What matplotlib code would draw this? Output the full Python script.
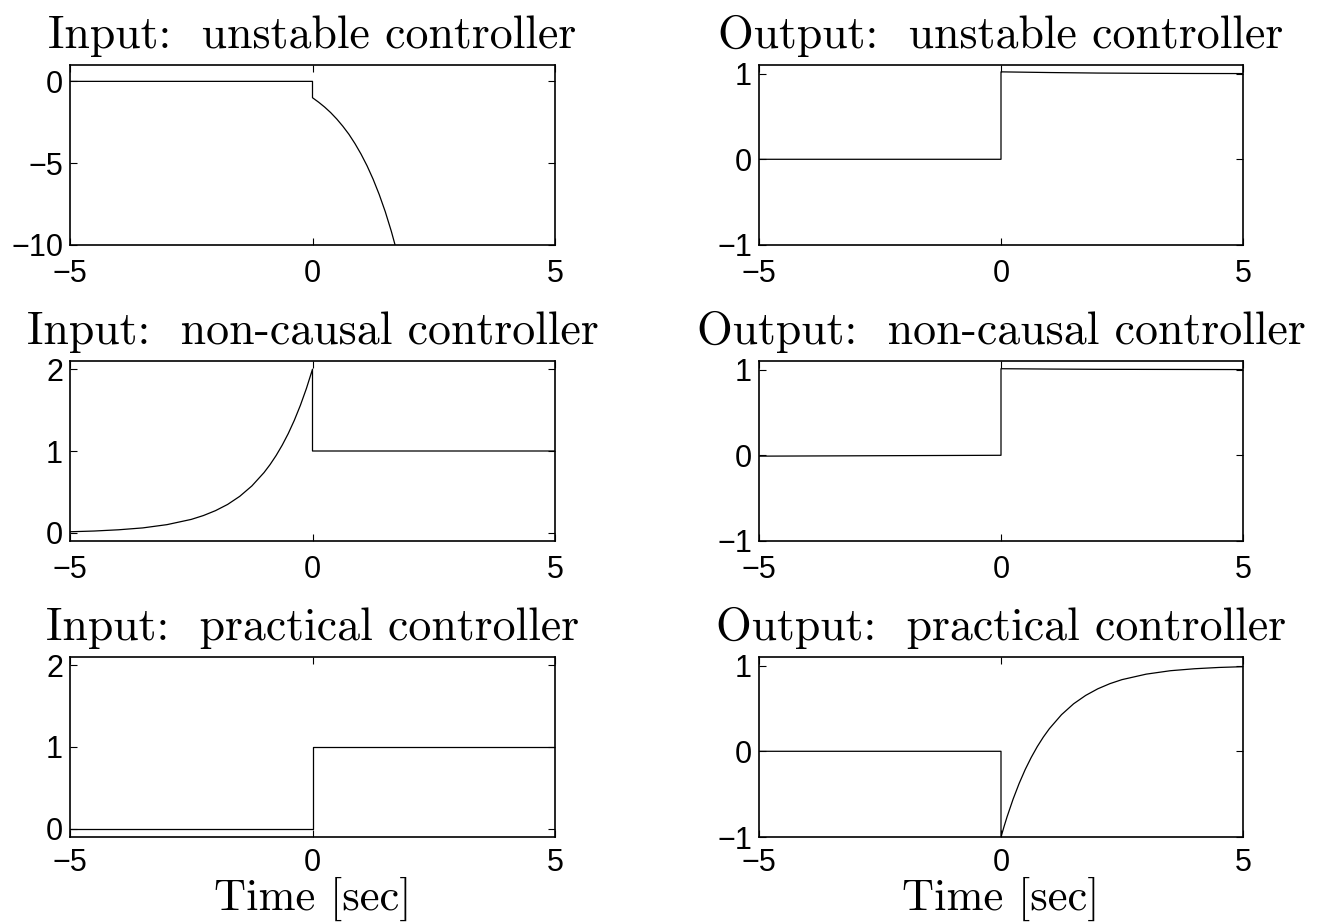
import matplotlib
matplotlib.use('Agg')
import matplotlib.pyplot as plt

# time axes and signals for the three controllers (input u, output y)
t_in_unstable = [-5, 0, 0, 0.125, 0.25, 0.375, 0.5, 0.625, 0.75, 0.875, 1.0,
                 1.125, 1.25, 1.375, 1.5, 1.625, 1.75]
u_unstable = [0, 0, -1, -1.27, -1.57, -1.91, -2.30, -2.74, -3.23, -3.80, -4.44,
              -5.16, -5.98, -6.91, -7.96, -9.16, -10.51]

t_out_unstable = [-5, 0, 0, 1, 2, 3, 4, 5]
y_unstable = [0, 0, 1.02, 1.012, 1.006, 1.003, 1.001, 1.0]

t_in_noncausal = [-5, -4.5, -4, -3.5, -3, -2.5, -2.25, -2, -1.75, -1.5, -1.25,
                  -1, -0.875, -0.75, -0.625, -0.5, -0.375, -0.25, -0.125, 0, 0, 5]
u_noncausal = [0.013, 0.022, 0.037, 0.060, 0.100, 0.164, 0.211, 0.271, 0.347,
               0.446, 0.573, 0.736, 0.834, 0.945, 1.071, 1.213, 1.375, 1.558,
               1.765, 2.0, 1.0, 1.0]

t_out_noncausal = [-5, -4, -3, -2, -1, 0, 0, 1, 2, 3, 4, 5]
y_noncausal = [-0.01, -0.008, -0.006, -0.004, -0.002, 0, 1.01, 1.006, 1.003,
               1.002, 1.001, 1.0]

t_in_practical = [-5, 0, 0, 5]
u_practical = [0, 0, 1, 1]

t_out_practical = [-5, 0, 0, 0.0625, 0.125, 0.25, 0.375, 0.5, 0.625, 0.75,
                   0.875, 1.0, 1.25, 1.5, 1.75, 2.0, 2.25, 2.5, 3, 3.5, 4, 4.5, 5]
y_practical = [0, 0, -1, -0.879, -0.765, -0.558, -0.375, -0.213, -0.071, 0.055,
               0.166, 0.264, 0.427, 0.554, 0.652, 0.729, 0.789, 0.836, 0.900,
               0.940, 0.963, 0.978, 0.987]

titles = ['Input:  unstable controller', 'Output:  unstable controller',
          'Input:  non-causal controller', 'Output:  non-causal controller',
          'Input:  practical controller', 'Output:  practical controller']
x_ticks = [-5, 0, 5]
y_ticks = [[0, -5, -10], [-1, 0, 1], [0, 1, 2], [-1, 0, 1], [0, 1, 2], [-1, 0, 1]]
y_lims = [(-10, 1), (-1, 1.1), (-0.1, 2.1), (-1, 1.1), (-0.1, 2.1), (-1, 1.1)]

series = [(t_in_unstable, u_unstable), (t_out_unstable, y_unstable),
          (t_in_noncausal, u_noncausal), (t_out_noncausal, y_noncausal),
          (t_in_practical, u_practical), (t_out_practical, y_practical)]

W, H = 1323, 922
fig = plt.figure(figsize=(W / 100, H / 100), dpi=100)

col_left = [70, 759]
col_right = [555, 1243]
row_top = [65, 361, 657]
row_h = 180

serif = 'cmr10'
tick_font = 'Liberation Sans'

for k in range(6):
    r, c = divmod(k, 2)
    x0 = col_left[c] / W
    w = (col_right[c] - col_left[c]) / W
    y0 = 1 - (row_top[r] + row_h) / H
    ax = fig.add_axes([x0, y0, w, row_h / H])
    t, v = series[k]
    ax.plot(t, v, color='black', linewidth=0.9)
    ax.set_xlim(-5, 5)
    ax.set_ylim(*y_lims[k])
    ax.set_xticks(x_ticks)
    ax.set_yticks(y_ticks[k])
    ax.tick_params(direction='in', top=True, right=True, length=5, width=0.8,
                   labelsize=22)
    ax.tick_params(axis='x', pad=10 if r < 2 else 8)
    ax.tick_params(axis='y', pad=5)
    for lab in ax.get_xticklabels() + ax.get_yticklabels():
        lab.set_fontfamily(tick_font)
    for s in ax.spines.values():
        s.set_linewidth(1.2)
    ax.set_title(titles[k], fontfamily=serif, fontsize=33, pad=12)
    if r == 2:
        ax.set_xlabel('Time [sec]', fontfamily=serif, fontsize=32, labelpad=-1)

fig.savefig('out.png', dpi=100)
